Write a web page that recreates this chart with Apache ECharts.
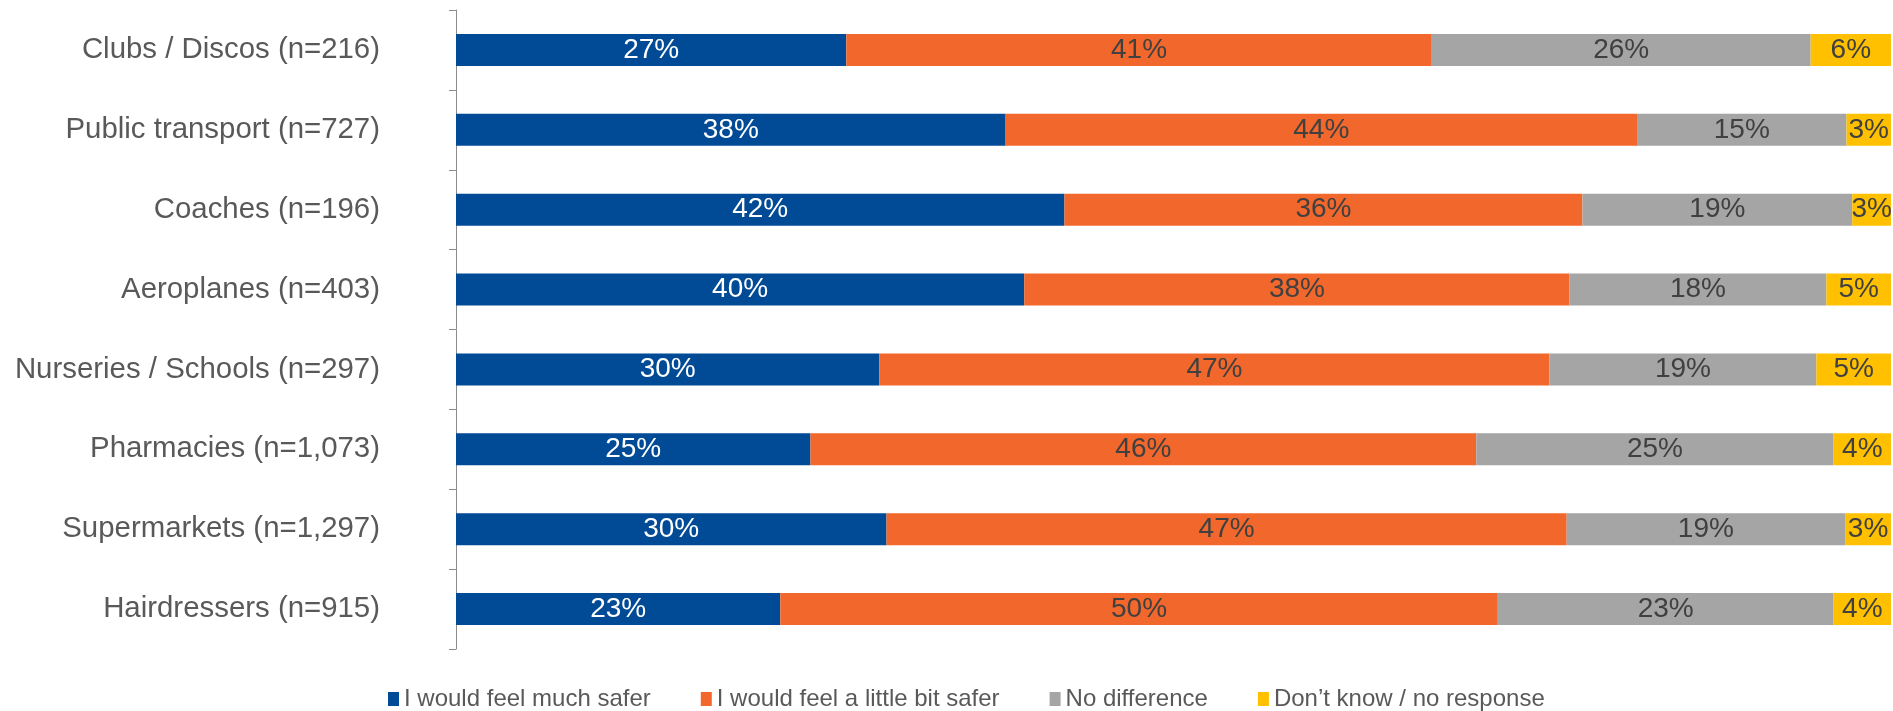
<!DOCTYPE html>
<html>
<head>
<meta charset="utf-8">
<script src="https://cdn.jsdelivr.net/npm/echarts@6/dist/echarts.min.js"></script>
<style>
html,body{margin:0;padding:0;background:#fff;}
#chart{width:1893px;height:711px;}
</style>
</head>
<body>
<div id="chart"></div>
<script>
const categories = [
  'Clubs / Discos (n=216)',
  'Public transport (n=727)',
  'Coaches (n=196)',
  'Aeroplanes (n=403)',
  'Nurseries / Schools (n=297)',
  'Pharmacies (n=1,073)',
  'Supermarkets (n=1,297)',
  'Hairdressers (n=915)'
];
const seriesNames = [
  'I would feel much safer',
  'I would feel a little bit safer',
  'No difference',
  'Don\u2019t know / no response'
];
const muchSafer   = [27.2, 38.3, 42.4, 39.6, 29.5, 24.7, 30.0, 22.6];
const littleSafer = [40.8, 44.0, 36.1, 38.0, 46.7, 46.4, 47.4, 50.0];
const noDiff      = [26.4, 14.6, 18.8, 17.9, 18.6, 24.9, 19.4, 23.4];
const dontKnow    = [5.6, 3.1, 2.7, 4.5, 5.2, 4.0, 3.2, 4.0];

const colors = ['#004A96', '#F2672B', '#A5A5A5', '#FFC000'];
const labelColors = ['#FFFFFF', '#404040', '#404040', '#404040'];
const allData = [muchSafer, littleSafer, noDiff, dontKnow];
const FONT = "'Liberation Sans', Arial, sans-serif";

const chart = echarts.init(document.getElementById('chart'));
chart.setOption({
  animation: false,
  textStyle: { fontFamily: FONT },
  grid: { left: 456, right: 2, top: 10, bottom: 62, containLabel: false },
  legend: {
    left: 383,
    top: 682,
    itemWidth: 11,
    itemHeight: 14,
    itemGap: 50,
    icon: 'rect',
    textStyle: { fontSize: 24, color: '#595959', fontFamily: FONT },
    data: seriesNames
  },
  xAxis: {
    type: 'value',
    min: 0,
    max: 100,
    show: false
  },
  yAxis: {
    type: 'category',
    inverse: true,
    data: categories,
    axisLine: { show: true, lineStyle: { color: '#8C8C8C', width: 1 } },
    axisTick: { show: true, length: 7, lineStyle: { color: '#8C8C8C' } },
    axisLabel: { margin: 76, fontSize: 29.4, color: '#595959', fontFamily: FONT }
  },
  series: allData.map((d, i) => ({
    name: seriesNames[i],
    type: 'bar',
    stack: 'total',
    barWidth: 32,
    data: d,
    itemStyle: { color: colors[i] },
    label: {
      show: true,
      position: 'inside',
      color: labelColors[i],
      fontSize: 28,
      fontFamily: FONT,
      formatter: p => Math.round(p.value) + '%'
    }
  }))
});
</script>
</body>
</html>
